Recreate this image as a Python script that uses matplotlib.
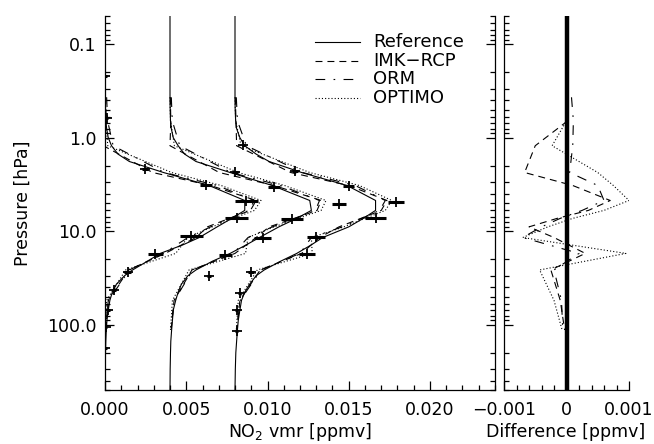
import numpy as np
import matplotlib
matplotlib.use('Agg')
import matplotlib.pyplot as plt
from matplotlib.ticker import FixedLocator, FixedFormatter, LogLocator, MultipleLocator, NullFormatter

plt.rcParams['font.family'] = 'DejaVu Sans'
plt.rcParams['lines.scale_dashes'] = False

# pressure grid of the reference profiles [hPa]
p_ref = [0.05, 0.1, 0.2, 0.37, 0.5, 0.66, 0.8, 1.0, 1.22, 1.5, 1.8, 2.36, 3.25, 4.7, 6.0,
         7.3, 9.0, 11.7, 14.0, 17.3, 21.0, 26.0, 30.0, 37.0, 45.0, 55.0, 70.0, 90.0, 114.0,
         150.0, 200.0, 300.0, 500.0]

# reference NO2 profiles (ppmv), second and third shifted by 0.004 / 0.008
ref1 = [0.0, 0.0, 0.00001, 0.00002, 0.00003, 0.00005, 0.0001, 0.0002, 0.0004, 0.0008, 0.0015,
        0.0036, 0.0064, 0.0086, 0.0086, 0.0078, 0.0069, 0.0058, 0.0048, 0.0034, 0.0026, 0.0017,
        0.0012, 0.0007, 0.00045, 0.0003, 0.0002, 0.00012, 0.00008, 0.00005, 0.00003, 0.00001, 0.0]
ref2 = [0.0040, 0.0040, 0.0040, 0.0040, 0.00401, 0.00403, 0.00408, 0.0042, 0.0045, 0.0049, 0.0056,
        0.0077, 0.0103, 0.0126, 0.0127, 0.0118, 0.0107, 0.0095, 0.0087, 0.0077, 0.0066, 0.0056,
        0.0051, 0.0047, 0.0045, 0.00435, 0.0042, 0.00415, 0.0041, 0.00405, 0.00403, 0.00401, 0.0040]
ref3 = [0.0080, 0.0080, 0.0080, 0.0080, 0.00801, 0.00804, 0.0081, 0.0083, 0.0086, 0.0093, 0.0101,
        0.0121, 0.0149, 0.01665, 0.01665, 0.0159, 0.0150, 0.0134, 0.0127, 0.0118, 0.0108, 0.0098,
        0.0093, 0.0089, 0.0086, 0.0084, 0.0083, 0.0082, 0.00815, 0.0081, 0.00805, 0.00802, 0.0080]

# retrieval levels and retrieved-minus-reference differences (ppmv)
p_ret = [0.37, 0.66, 1.22, 2.36, 3.25, 4.7, 6.0, 7.3, 9.0, 11.7, 17.3, 26.0, 55.0, 114.0]
diff_imk = [0.00002, 0.00002, -0.00050, -0.00067, 0.00010, 0.00070, 0.00035, -0.00015, -0.00060,
            -0.00020, 0.00030, -0.00025, -0.00010, -0.00003]
diff_orm = [0.00008, 0.00011, 0.00010, 0.00005, 0.00050, 0.00060, 0.00025, -0.00010, -0.00040,
            -0.00070, 0.00020, -0.00020, -0.00008, -0.00006]
diff_optimo = [0.0, 0.0, -0.00023, 0.00050, 0.00075, 0.00100, 0.00060, 0.00010, -0.00030,
               -0.00070, 0.00095, -0.00043, -0.00020, -0.00007]

# simulated measurements with errors
meas_p1 = [0.22, 0.61, 2.14, 3.2, 4.8, 7.3, 11.4, 17.7, 27.5, 43.0, 69.0, 107.0, 178.0]
meas_v1 = [0.0, 0.0001, 0.00245, 0.0062, 0.0087, 0.0081, 0.0053, 0.0031, 0.0014, 0.00055, 0.0002, 0.00005, 0.0]
meas_e1 = [0.0001, 0.0001, 0.0002, 0.00036, 0.0007, 0.0007, 0.0007, 0.00045, 0.00022, 0.00015, 0.0001, 0.0001, 0.0001]
meas_p2 = [2.35, 3.4, 5.1, 7.4, 11.7, 18.0, 30.0]
meas_v2 = [0.0080, 0.0104, 0.0144, 0.0115, 0.0097, 0.0074, 0.0064]
meas_e2 = [0.0002, 0.00037, 0.00046, 0.00066, 0.0005, 0.0004, 0.0001]
meas_p3 = [1.19, 2.3, 3.3, 4.9, 7.3, 11.6, 17.5, 27.5, 46.0, 70.0, 117.0]
meas_v3 = [0.0085, 0.0117, 0.0150, 0.0179, 0.01665, 0.0130, 0.01245, 0.0090, 0.0083, 0.0081, 0.0081]
meas_e3 = [0.0001, 0.0002, 0.00034, 0.0005, 0.00066, 0.00056, 0.0005, 0.0002, 0.0001, 0.0001, 0.0001]

labels = ['Reference', 'IMK\u2212RCP', 'ORM', 'OPTIMO']
dash_styles = [None, (0, (5.0, 3.6)), (0, (7.0, 6.0, 1.2, 6.0)), (0, (0.8, 1.5))]
diffs = [diff_imk, diff_orm, diff_optimo]

fs = 12.5
lw = 0.8

fig = plt.figure(figsize=(6.54, 4.44), dpi=100)
ax1 = fig.add_axes([105/654, 54/444, 390/654, 374/444])
ax2 = fig.add_axes([504/654, 54/444, 125/654, 374/444])

ret_idx = [p_ref.index(p) for p in p_ret]
profiles = [(ref1, meas_p1, meas_v1, meas_e1),
            (ref2, meas_p2, meas_v2, meas_e2),
            (ref3, meas_p3, meas_v3, meas_e3)]

for ref, mp, mv, me in profiles:
    ref = np.array(ref)
    ax1.plot(ref, p_ref, color='k', lw=lw, ls='-')
    for d, st in zip(diffs, dash_styles[1:]):
        ax1.plot(ref[ret_idx] + np.array(d), p_ret, color='k', lw=lw, ls=st)
    ax1.errorbar(mv, mp, xerr=me, fmt='+', color='k', ms=7, mew=1.3,
                 elinewidth=2.2, capsize=0)

# legend drawn by hand in axes coordinates
for i, (lab, st) in enumerate(zip(labels, dash_styles)):
    yy = 0.930 - i * 0.0495
    ax1.plot([0.538, 0.654], [yy, yy], transform=ax1.transAxes, color='k', lw=lw,
             ls='-' if st is None else st)
    ax1.text(0.687, yy, lab, transform=ax1.transAxes, fontsize=fs + 0.5, va='center', ha='left')

# difference panel
ax2.axvline(0.0, color='k', lw=3.2)
for d, st in zip(diffs, dash_styles[1:]):
    ax2.plot(d, p_ret, color='k', lw=lw, ls=st)

for ax in (ax1, ax2):
    ax.set_yscale('log')
    ax.set_ylim(500, 0.05)
    ax.spines['top'].set_visible(False)
    for s in ax.spines.values():
        s.set_linewidth(0.9)
    ax.yaxis.set_major_locator(FixedLocator([0.1, 1.0, 10.0, 100.0]))
    ax.yaxis.set_minor_locator(LogLocator(base=10, subs=np.arange(2, 10), numticks=20))
    ax.yaxis.set_minor_formatter(NullFormatter())
    ax.tick_params(which='both', direction='in', top=False, width=0.9, labelsize=fs, pad=8)
    ax.tick_params(which='major', length=6.5)
    ax.tick_params(which='minor', length=3.5)

ax1.set_xlim(0, 0.024)
ax1.xaxis.set_major_locator(FixedLocator([0.0, 0.005, 0.010, 0.015, 0.020]))
ax1.xaxis.set_major_formatter(FixedFormatter(['0.000', '0.005', '0.010', '0.015', '0.020']))
ax1.xaxis.set_minor_locator(MultipleLocator(0.001))
ax1.yaxis.set_major_formatter(FixedFormatter(['0.1', '1.0', '10.0', '100.0']))
ax1.tick_params(axis='y', which='both', right=True, labelright=False, pad=6)

ax2.set_xlim(-0.001, 0.001)
ax2.spines['right'].set_visible(False)
ax2.xaxis.set_major_locator(FixedLocator([-0.001, 0.0, 0.001]))
ax2.xaxis.set_major_formatter(FixedFormatter(['\u22120.001', '0', '0.001']))
ax2.xaxis.set_minor_locator(MultipleLocator(0.0002))
ax2.tick_params(axis='y', which='both', right=False, labelleft=False)

fig.text(300/654, 1 - 432/444, 'NO$_2$ vmr [ppmv]', fontsize=fs, ha='center', va='center')
fig.text(566/654, 1 - 432/444, 'Difference [ppmv]', fontsize=fs, ha='center', va='center')
fig.text(23/654, 1 - 203/444, 'Pressure [hPa]', fontsize=fs, ha='center', va='center', rotation=90)

fig.savefig('out.png', dpi=100)
